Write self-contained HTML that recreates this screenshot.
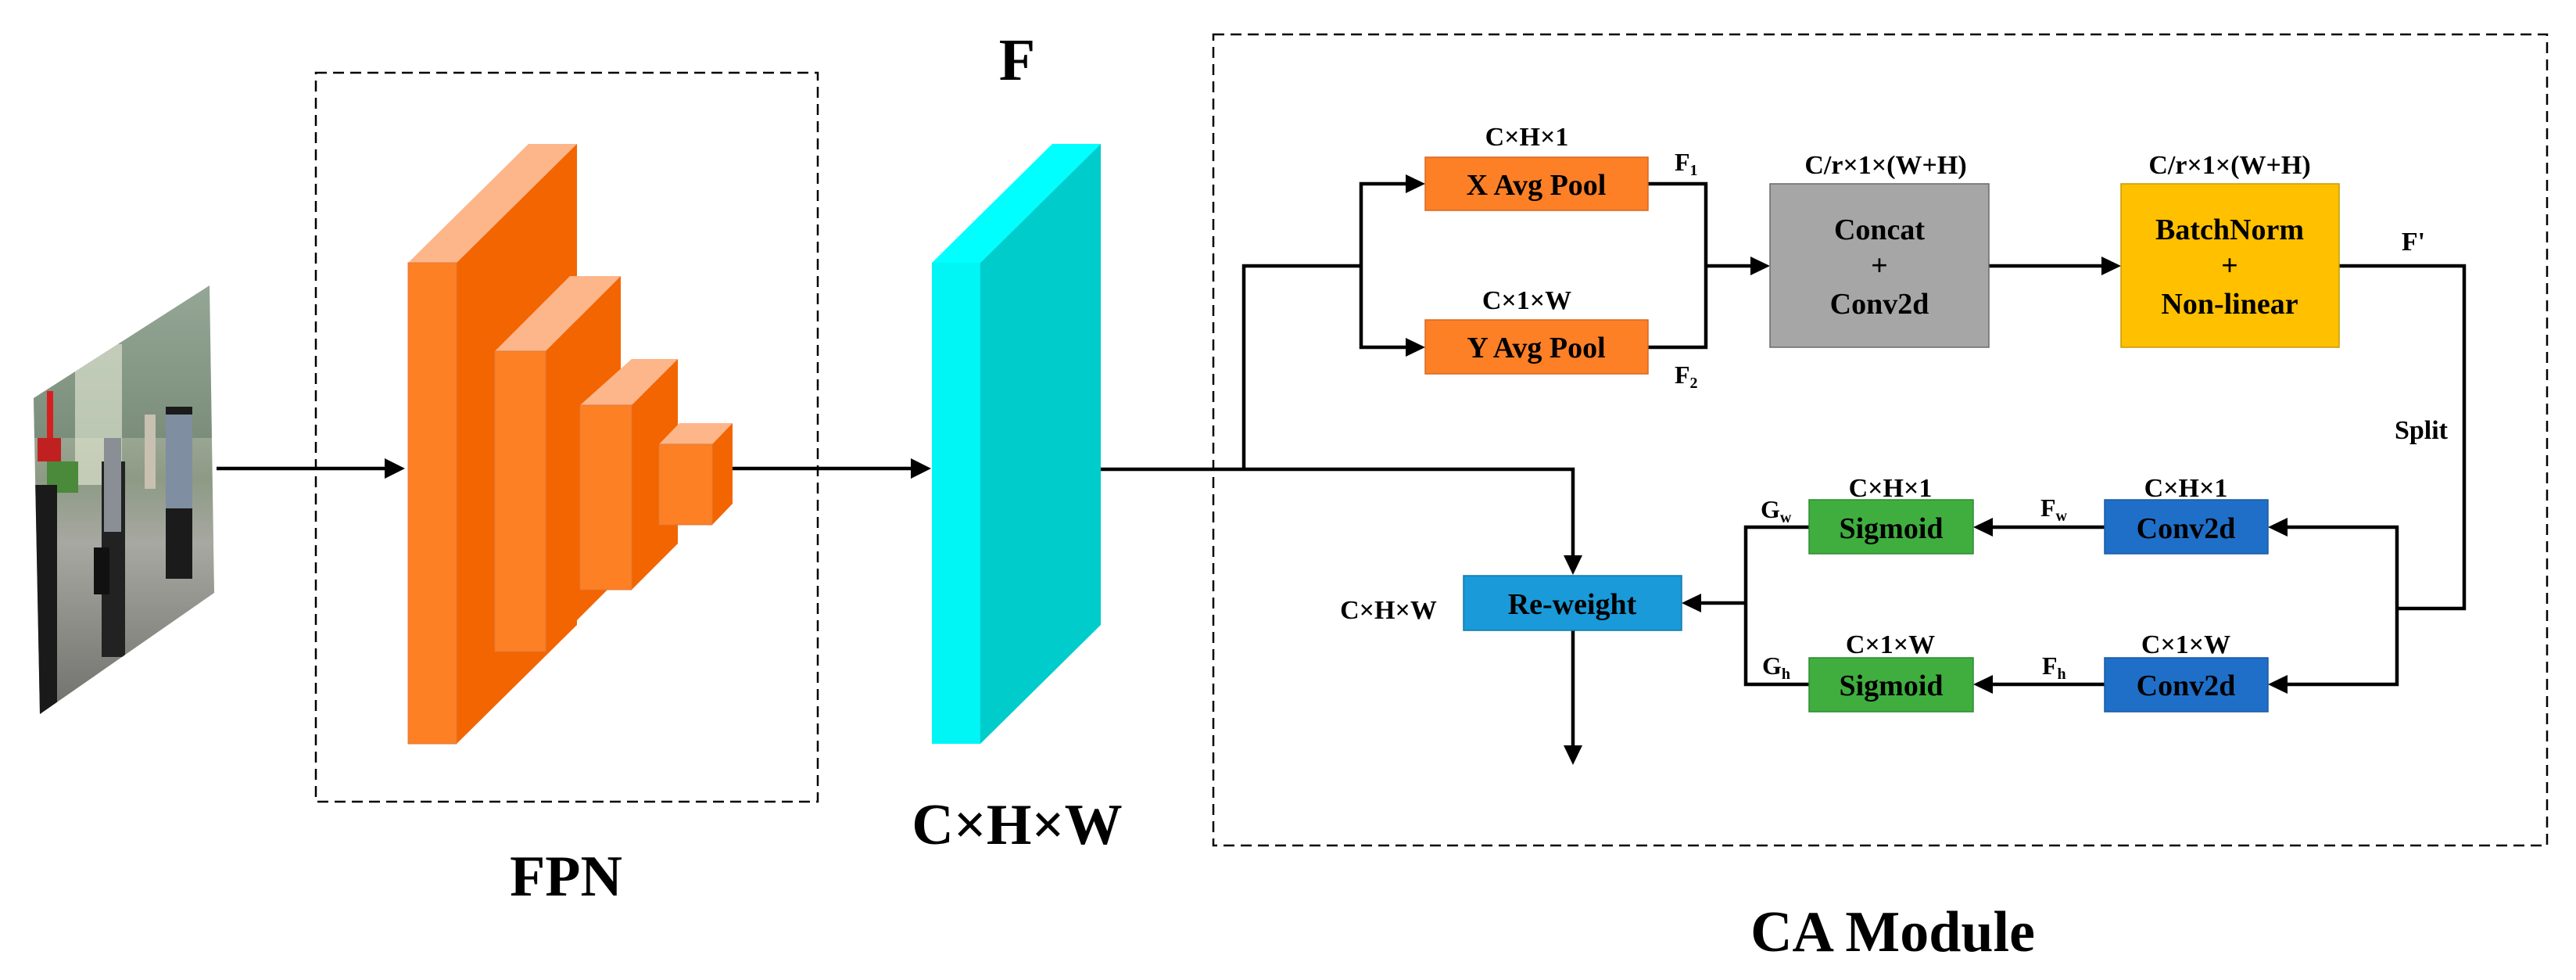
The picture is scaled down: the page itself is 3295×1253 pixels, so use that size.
<!DOCTYPE html>
<html><head><meta charset="utf-8"><style>
html,body{margin:0;padding:0;background:#fff;}
svg{display:block;}
text{font-family:"Liberation Serif",serif;font-weight:bold;fill:#000;}
</style></head><body>
<svg width="3295" height="1253" viewBox="0 0 3295 1253" xmlns="http://www.w3.org/2000/svg">
<defs>
<marker id="ah" markerWidth="8" markerHeight="8" refX="7" refY="4" orient="auto" markerUnits="userSpaceOnUse" viewBox="0 0 8 8">
</marker>
<clipPath id="ph"><polygon points="43,509 268,365 274,758 51,913"/></clipPath>
<linearGradient id="pg" x1="0" y1="0" x2="0" y2="1">
<stop offset="0" stop-color="#c9d3c3"/><stop offset="0.45" stop-color="#8d9a85"/><stop offset="0.6" stop-color="#a8a8a2"/><stop offset="1" stop-color="#6e6e6a"/></linearGradient>
</defs>

<!-- photo -->
<g clip-path="url(#ph)">
<rect x="40" y="360" width="240" height="560" fill="url(#pg)"/>
<rect x="40" y="360" width="240" height="200" fill="#56705f" opacity="0.45"/>
<rect x="96" y="440" width="60" height="180" fill="#e8ecd8" opacity="0.6"/>
<rect x="60" y="500" width="8" height="60" fill="#d62020"/>
<rect x="48" y="560" width="30" height="30" fill="#c02020"/>
<rect x="60" y="590" width="40" height="40" fill="#4a8a3a"/>
<rect x="43" y="620" width="30" height="300" fill="#1a1a1a"/>
<rect x="130" y="590" width="30" height="250" fill="#222"/>
<rect x="133" y="560" width="22" height="120" fill="#8a8f95"/>
<rect x="212" y="520" width="34" height="220" fill="#1b1b1b"/>
<rect x="212" y="530" width="34" height="120" fill="#7f8ea0"/>
<rect x="120" y="700" width="20" height="60" fill="#111"/>
<rect x="185" y="530" width="14" height="95" fill="#c8c0b0"/>
</g>

<!-- FPN dashed box -->
<rect x="404" y="93" width="642" height="932" fill="none" stroke="#000" stroke-width="2.5" stroke-dasharray="14,8"/>

<!-- arrow into FPN -->
<line x1="277" y1="599" x2="496" y2="599" stroke="#000" stroke-width="4.5"/>
<polygon points="518,599 492,586 492,612" fill="#000"/>

<!-- big block -->
<polygon points="522,336 676,184 738,184 584,336" fill="#fdb58a"/>
<polygon points="584,336 738,184 738,799 584,951" fill="#f26500"/>
<rect x="522" y="336" width="62" height="615" fill="#fd8025" stroke="#e07a3a" stroke-width="1"/>
<!-- second -->
<polygon points="633,449 729,353 794,353 698,449" fill="#fdb58a"/>
<polygon points="698,449 794,353 794,737 698,833" fill="#f26500"/>
<rect x="633" y="449" width="65" height="384" fill="#fd8025" stroke="#e07a3a" stroke-width="1"/>
<!-- third -->
<polygon points="742,518 808,459 867,459 808,518" fill="#fdb58a"/>
<polygon points="808,518 867,459 867,695 808,754" fill="#f26500"/>
<rect x="742" y="518" width="66" height="236" fill="#fd8025" stroke="#e07a3a" stroke-width="1"/>
<!-- fourth -->
<polygon points="843,568 869,541 937,541 911,568" fill="#fdb58a"/>
<polygon points="911,568 937,541 937,644 911,671" fill="#f26500"/>
<rect x="843" y="568" width="68" height="103" fill="#fd8025" stroke="#e07a3a" stroke-width="1"/>

<!-- arrow to F -->
<line x1="937" y1="599" x2="1168" y2="599" stroke="#000" stroke-width="4.5"/>
<polygon points="1191,599 1165,586 1165,612" fill="#000"/>

<!-- cyan block -->
<polygon points="1192,336 1346,184 1408,184 1254,336" fill="#00ffff"/>
<polygon points="1254,336 1408,184 1408,799 1254,951" fill="#00cccc"/>
<rect x="1192" y="336" width="62" height="615" fill="#00f5f5"/>

<text x="1301" y="102" font-size="76" text-anchor="middle">F</text>
<text x="1301" y="1079" font-size="74" text-anchor="middle">C×H×W</text>
<text x="724" y="1145" font-size="74" text-anchor="middle">FPN</text>
<text x="2421" y="1216" font-size="74" text-anchor="middle">CA Module</text>

<!-- CA dashed box -->
<rect x="1552" y="44" width="1706" height="1037" fill="none" stroke="#000" stroke-width="2.5" stroke-dasharray="14,8"/>

<g stroke="#000" stroke-width="4.5" fill="none">
<polyline points="1408,600 2012,600 2012,712"/>
<polyline points="1591,600 1591,340 1741,340"/>
<polyline points="1800,235 1741,235 1741,444 1800,444"/>
<polyline points="2108,235 2182,235 2182,444 2108,444"/>
<line x1="2182" y1="340" x2="2242" y2="340"/>
<line x1="2544" y1="340" x2="2690" y2="340"/>
<polyline points="2992,340 3152,340 3152,778 3066,778"/>
<polyline points="2924,674 3066,674 3066,875 2924,875"/>
<line x1="2692" y1="674" x2="2547" y2="674"/>
<line x1="2692" y1="875" x2="2547" y2="875"/>
<polyline points="2314,674 2233,674 2233,875 2314,875"/>
<line x1="2233" y1="771" x2="2174" y2="771"/>
<line x1="2012" y1="806" x2="2012" y2="955"/>
</g>
<g fill="#000">
<polygon points="1823,235 1798,223 1798,247"/>
<polygon points="1823,444 1798,432 1798,456"/>
<polygon points="2264,340 2239,328 2239,352"/>
<polygon points="2713,340 2688,328 2688,352"/>
<polygon points="2012,735 2000,710 2024,710"/>
<polygon points="2901,674 2926,662 2926,686"/>
<polygon points="2901,875 2926,863 2926,887"/>
<polygon points="2524,674 2549,662 2549,686"/>
<polygon points="2524,875 2549,863 2549,887"/>
<polygon points="2151,771 2176,759 2176,783"/>
<polygon points="2012,978 2000,953 2024,953"/>
</g>

<!-- boxes -->
<rect x="1823" y="201" width="285" height="68" fill="#fd7f26" stroke="#d46a20" stroke-width="1.5"/>
<rect x="1823" y="409" width="285" height="69" fill="#fd7f26" stroke="#d46a20" stroke-width="1.5"/>
<rect x="2264" y="235" width="280" height="209" fill="#a6a6a6" stroke="#6a6a6a" stroke-width="1.5"/>
<rect x="2713" y="235" width="279" height="209" fill="#ffc000" stroke="#c89a00" stroke-width="1.5"/>
<rect x="2692" y="639" width="209" height="69" fill="#1f6fc8" stroke="#1a5aa0" stroke-width="1.5"/>
<rect x="2692" y="841" width="209" height="69" fill="#1f6fc8" stroke="#1a5aa0" stroke-width="1.5"/>
<rect x="2314" y="639" width="210" height="69" fill="#3fae3f" stroke="#2f8a2f" stroke-width="1.5"/>
<rect x="2314" y="841" width="210" height="69" fill="#3fae3f" stroke="#2f8a2f" stroke-width="1.5"/>
<rect x="1872" y="736" width="279" height="70" fill="#1a9ad8" stroke="#1578a8" stroke-width="1.5"/>

<g font-size="38" text-anchor="middle">
<text x="1965" y="249">X Avg Pool</text>
<text x="1965" y="457">Y Avg Pool</text>
<text x="2404" y="306">Concat</text>
<text x="2404" y="352">+</text>
<text x="2404" y="401">Conv2d</text>
<text x="2852" y="306">BatchNorm</text>
<text x="2852" y="352">+</text>
<text x="2852" y="401">Non-linear</text>
<text x="2796" y="688">Conv2d</text>
<text x="2796" y="889">Conv2d</text>
<text x="2419" y="688">Sigmoid</text>
<text x="2419" y="889">Sigmoid</text>
<text x="2011" y="785">Re-weight</text>
</g>
<g font-size="34" text-anchor="middle">
<text x="1953" y="186">C×H×1</text>
<text x="1953" y="395">C×1×W</text>
<text x="2412" y="222">C/r×1×(W+H)</text>
<text x="2852" y="222">C/r×1×(W+H)</text>
<text x="2796" y="635">C×H×1</text>
<text x="2796" y="835">C×1×W</text>
<text x="2418" y="635">C×H×1</text>
<text x="2418" y="835">C×1×W</text>
<text x="1776" y="791">C×H×W</text>
<text x="3097" y="561">Split</text>
<text x="3087" y="320">F'</text>
</g>
<g font-size="32">
<text x="2142" y="218">F<tspan font-size="20" dy="6">1</tspan></text>
<text x="2142" y="490">F<tspan font-size="20" dy="6">2</tspan></text>
<text x="2610" y="660">F<tspan font-size="20" dy="6">w</tspan></text>
<text x="2612" y="862">F<tspan font-size="20" dy="6">h</tspan></text>
<text x="2252" y="662">G<tspan font-size="20" dy="6">w</tspan></text>
<text x="2254" y="862">G<tspan font-size="20" dy="6">h</tspan></text>
</g>
</svg>
</body></html>
